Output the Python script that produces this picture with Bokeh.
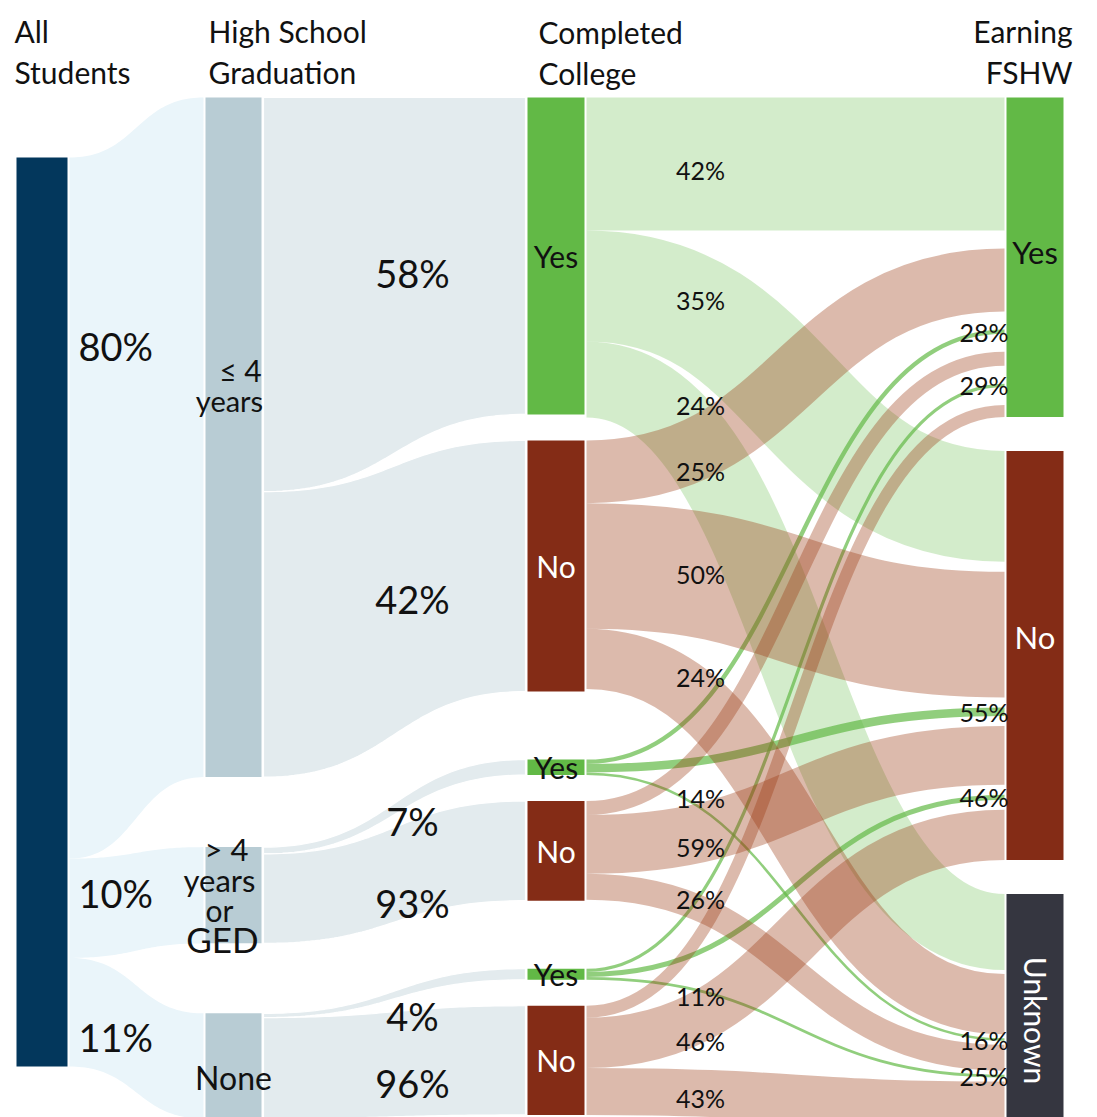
import numpy as np
from bokeh.plotting import figure
from bokeh.models import ColumnDataSource, Range1d
from bokeh.core.properties import value
from bokeh.embed import file_html
from bokeh.resources import INLINE

# ---------------- data ----------------
column_titles = ["All\nStudents", "High School\nGraduation", "Completed\nCollege", "Earning\nFSHW"]
hs_groups = ["≤ 4 years", "> 4 years or GED", "None"]
hs_share = [80, 10, 11]            # % of all students in each high-school group
college_yes = [58, 7, 4]           # % of the group that completed college
college_no = [42, 93, 96]          # % of the group that did not
fshw_levels = ["Yes", "No", "Unknown"]
fshw_after_yes = [[42, 35, 24], [28, 55, 16], [29, 46, 25]]   # per HS group, college = Yes
fshw_after_no = [[25, 50, 24], [14, 59, 26], [11, 46, 43]]    # per HS group, college = No

# ---------------- style / layout ----------------
FONT = value("Lato")
NAVY = "#03375c"
C0FLOW = "#eaf5fa"
C1NODE = "#b8ccd4"
C1FLOW = "#e3ebee"
GREEN = "#62b946"
BROWN = "#842c16"
BROWN_FLOW = "#9a3812"
DARK = "#353640"
TXT = "#111111"

W, H = 1097, 1117
X0 = (16, 67)
X1 = (205, 261)
X2 = (527, 584)
X3 = (1006, 1063)
PAD = 2
TOP = 97
TGT_GAP = [18, 10, 4]      # spacing between incoming bands at each FSHW node


def h1(v):
    return 11.05 * v ** 0.94


def h2(v):
    return 20.0 * v ** 0.72


# column 1 nodes
c1 = []
y = TOP
for s in hs_share:
    hh = h1(s)
    c1.append([y, y + hh])
    y += hh + 70

# column 0 node and its partitions
c0_top = 157
c0_h = 9.0 * sum(hs_share)
c0 = [c0_top, c0_top + c0_h]
tot1 = sum(b - a for a, b in c1)
c0_parts = []
y = c0_top
for a, b in c1:
    w = c0_h * (b - a) / tot1
    c0_parts.append([y, y + w])
    y += w

# column 2 nodes
c2 = []
y = TOP
for g, s in enumerate(hs_share):
    if g:
        y += 68 - 26
    for kind, pct, f in (("Yes", college_yes[g], fshw_after_yes[g]),
                         ("No", college_no[g], fshw_after_no[g])):
        hh = h2(s * pct / 100)
        c2.append(dict(kind=kind, g=g, pct=pct, f=f, y0=y, y1=y + hh))
        y += hh + 26

# column 3 nodes and target slots
widths = [[(n["y1"] - n["y0"]) * n["f"][t] / 100 for t in range(3)] for n in c2]
c3 = []
tslot = {}
y = TOP
for t in range(3):
    top = y
    for i in range(len(c2)):
        w = widths[i][t]
        tslot[(i, t)] = (y, y + w)
        y += w + TGT_GAP[t]
    y -= TGT_GAP[t]
    c3.append([top, y])
    y += 34

# source slots on column 2 nodes
sslot = {}
for i, n in enumerate(c2):
    y = n["y0"]
    for t in range(3):
        w = widths[i][t]
        sslot[(i, t)] = (y, y + w)
        y += w


def band(xa, ya0, ya1, xb, yb0, yb1, n=60):
    t = np.linspace(0, 1, n)
    xm = (xa + xb) / 2
    bx = (1 - t) ** 3 * xa + 3 * (1 - t) ** 2 * t * xm + 3 * (1 - t) * t ** 2 * xm + t ** 3 * xb
    s = 3 * t ** 2 - 2 * t ** 3
    top = ya0 + (yb0 - ya0) * s
    bot = ya1 + (yb1 - ya1) * s
    return list(bx) + list(bx[::-1]), list(top) + list(bot[::-1])


def curve_y_at(xa, ya, xb, yb, xq):
    t = np.linspace(0, 1, 2001)
    xm = (xa + xb) / 2
    bx = (1 - t) ** 3 * xa + 3 * (1 - t) ** 2 * t * xm + 3 * (1 - t) * t ** 2 * xm + t ** 3 * xb
    s = 3 * t ** 2 - 2 * t ** 3
    by = ya + (yb - ya) * s
    return float(np.interp(xq, bx, by))


p = figure(width=W, height=H, output_backend="svg", toolbar_location=None,
           x_axis_location=None, y_axis_location=None,
           x_range=Range1d(0, W), y_range=Range1d(H, 0),
           min_border=0, min_border_left=0, min_border_right=0,
           min_border_top=0, min_border_bottom=0)
p.outline_line_color = None
p.grid.visible = False
p.background_fill_color = "white"

# ---- flows column 0 -> 1
xs, ys = [], []
for (a0, a1), (b0, b1) in zip(c0_parts, c1):
    bx, by = band(X0[1] + PAD, a0, a1, X1[0] - PAD, b0, b1)
    xs.append(bx); ys.append(by)
p.patches(xs, ys, fill_color=C0FLOW, line_color=None)

# ---- flows column 1 -> 2
xs, ys = [], []
for g, (a0, a1) in enumerate(c1):
    hh = a1 - a0
    ysplit = a0 + hh * college_yes[g] / 100
    ny, nn = c2[2 * g], c2[2 * g + 1]
    bx, by = band(X1[1] + PAD, a0, ysplit, X2[0] - PAD, ny["y0"], ny["y1"])
    xs.append(bx); ys.append(by)
    bx, by = band(X1[1] + PAD, ysplit, a1, X2[0] - PAD, nn["y0"], nn["y1"])
    xs.append(bx); ys.append(by)
p.patches(xs, ys, fill_color=C1FLOW, line_color="white", line_width=1.2)

# ---- flows column 2 -> 3 (stroked beziers)
XA, XB = X2[1] + PAD, X3[0] - PAD
XM = (XA + XB) / 2


def flow_source(filter_fn):
    d = dict(x0=[], y0=[], x1=[], y1=[], cx0=[], cy0=[], cx1=[], cy1=[], w=[])
    for i, n in enumerate(c2):
        if not filter_fn(n):
            continue
        for t in range(3):
            sa = sum(sslot[(i, t)]) / 2
            ta = sum(tslot[(i, t)]) / 2
            d["x0"].append(XA); d["y0"].append(sa)
            d["x1"].append(XB); d["y1"].append(ta)
            d["cx0"].append(XM); d["cy0"].append(sa)
            d["cx1"].append(XM); d["cy1"].append(ta)
            d["w"].append(widths[i][t])
    return ColumnDataSource(d)


big_green = flow_source(lambda n: n["kind"] == "Yes" and n["g"] == 0)
thin_green = flow_source(lambda n: n["kind"] == "Yes" and n["g"] > 0)
brown = flow_source(lambda n: n["kind"] == "No")
p.bezier("x0", "y0", "x1", "y1", "cx0", "cy0", "cx1", "cy1", source=big_green,
         line_color=GREEN, line_alpha=0.28, line_width="w")
p.bezier("x0", "y0", "x1", "y1", "cx0", "cy0", "cx1", "cy1", source=thin_green,
         line_color=GREEN, line_alpha=0.7, line_width="w")
p.bezier("x0", "y0", "x1", "y1", "cx0", "cy0", "cx1", "cy1", source=brown,
         line_color=BROWN_FLOW, line_alpha=0.35, line_width="w")

# ---- nodes
p.quad(left=[X0[0]], right=[X0[1]], top=[c0[0]], bottom=[c0[1]], fill_color=NAVY, line_color=None)
p.quad(left=[X1[0]] * 3, right=[X1[1]] * 3, top=[a for a, b in c1], bottom=[b for a, b in c1],
       fill_color=C1NODE, line_color=None)
p.quad(left=[X2[0]] * len(c2), right=[X2[1]] * len(c2), top=[n["y0"] for n in c2],
       bottom=[n["y1"] for n in c2],
       fill_color=[GREEN if n["kind"] == "Yes" else BROWN for n in c2], line_color=None)
p.quad(left=[X3[0]] * 3, right=[X3[1]] * 3, top=[a for a, b in c3], bottom=[b for a, b in c3],
       fill_color=[GREEN, BROWN, DARK], line_color=None)

# ---- column titles
title_x = [14, 208, 538, 1072]
title_align = ["left", "left", "left", "right"]
title_mid = [30, 30, 31, 30]
for ttl, tx, ta, tm in zip(column_titles, title_x, title_align, title_mid):
    for k, line in enumerate(ttl.split("\n")):
        p.text(x=[tx], y=[tm + 41 * k], text=[line], text_font=FONT, text_font_size="30px",
               text_align=ta, text_baseline="middle", text_color=TXT)

# ---- percent labels on first two flow columns
left_lab_y = [345, 892, 1036]
p.text(x=[78] * 3, y=left_lab_y, text=[f"{v}%" for v in hs_share], text_font=FONT,
       text_font_size="38px", text_align="left", text_baseline="middle", text_color=TXT)
mid_lab_y = [272, 598, 820, 902, 1015, 1082]
mid_txt = []
for g in range(3):
    mid_txt += [f"{college_yes[g]}%", f"{college_no[g]}%"]
p.text(x=[412] * 6, y=mid_lab_y, text=mid_txt, text_font=FONT, text_font_size="38px",
       text_align="center", text_baseline="middle", text_color=TXT)

# ---- column 1 node labels
c1_lines = [("≤ 4", 240, c1[0][0] + 272, "30px"), ("years", 229, c1[0][0] + 303, "29px"),
            ("> 4", 226, c1[1][0] + 2, "31px"), ("years", 219, c1[1][0] + 33, "31px"),
            ("or", 219, c1[1][0] + 63, "30px"), ("GED", 222, c1[1][0] + 92, "35px"),
            ("None", 233, c1[2][0] + 64, "32px")]
for txt, tx, ty, fs in c1_lines:
    p.text(x=[tx], y=[ty], text=[txt], text_font=FONT, text_font_size=fs,
           text_align="center", text_baseline="middle", text_color=TXT)

# ---- column 2 node labels
p.text(x=[(X2[0] + X2[1]) / 2] * len(c2), y=[(n["y0"] + n["y1"]) / 2 for n in c2],
       text=[n["kind"] for n in c2], text_font=FONT, text_font_size="30px",
       text_align="center", text_baseline="middle",
       text_color=[TXT if n["kind"] == "Yes" else "white" for n in c2])

# ---- column 3 node labels
xc3 = (X3[0] + X3[1]) / 2
p.text(x=[xc3, xc3], y=[(c3[0][0] + c3[0][1]) / 2 - 5, (c3[1][0] + c3[1][1]) / 2 - 18],
       text=fshw_levels[:2], text_font=FONT, text_font_size="31px", text_align="center",
       text_baseline="middle", text_color=[TXT, "white"])
p.text(x=[xc3 + 1], y=[1020], text=[fshw_levels[2]], text_font=FONT, text_font_size="30px",
       text_align="center", text_baseline="middle", text_color="white", angle=-np.pi / 2)

# ---- flow labels column 2 -> 3
lx, ly, lt = [], [], []
rx, ry, rt = [], [], []
for i, n in enumerate(c2):
    for t in range(3):
        if n["kind"] == "Yes" and n["g"] > 0:
            rx.append(X3[0] + 2); ry.append(sum(tslot[(i, t)]) / 2); rt.append(f"{n['f'][t]}%")
        else:
            sa = sum(sslot[(i, t)]) / 2
            ta = sum(tslot[(i, t)]) / 2
            lx.append(700); ly.append(curve_y_at(XA, sa, XB, ta, 650) + 6); lt.append(f"{n['f'][t]}%")
p.text(x=lx, y=ly, text=lt, text_font=FONT, text_font_size="25px", text_align="center",
       text_baseline="middle", text_color=TXT)
p.text(x=rx, y=ry, text=rt, text_font=FONT, text_font_size="25px", text_align="right",
       text_baseline="middle", text_color=TXT)

open("out.html", "w").write(file_html(p, INLINE))
